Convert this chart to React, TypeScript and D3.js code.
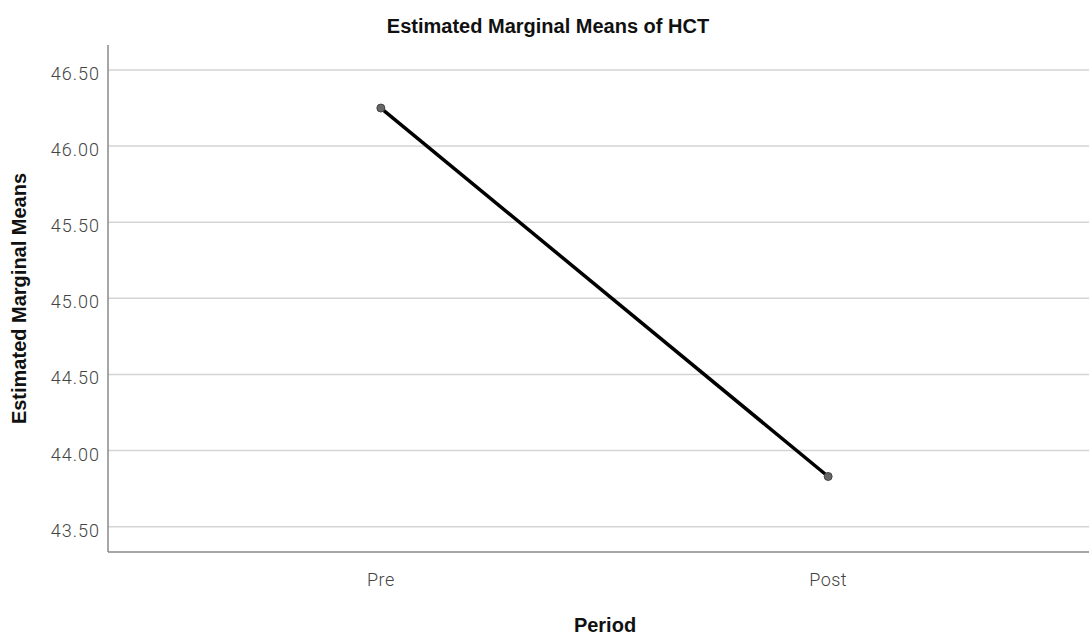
import React from "react";
import * as d3 from "d3";

const categories: string[] = ["Pre", "Post"];
const means: number[] = [46.25, 43.83];
const yTicks: number[] = [43.5, 44.0, 44.5, 45.0, 45.5, 46.0, 46.5];

const W = 1089;
const H = 635;
const left = 108;
const top = 45;
const bottom = 552;

export default function App() {
  const y = d3.scaleLinear().domain([43.334, 46.664]).range([bottom, top]);
  const x = d3.scalePoint<string>().domain(categories).range([left, 1101]).padding(0.61);
  const data = categories.map((c, i) => ({ c, v: means[i] }));
  const line = d3
    .line<{ c: string; v: number }>()
    .x((d) => x(d.c) as number)
    .y((d) => y(d.v));
  const fmt = d3.format(".2f");
  return (
    <div style={{ position: "fixed", left: 0, top: 0 }}>
      <svg width={W} height={H} style={{ display: "block", background: "#fff" }}>
        <text
          x={548}
          y={33}
          textAnchor="middle"
          fontFamily="Liberation Sans, Arial, sans-serif"
          fontWeight="bold"
          fontSize={20}
          fill="#111"
        >
          Estimated Marginal Means of HCT
        </text>
        {yTicks.map((t) => (
          <g key={t}>
            <line x1={left} x2={W} y1={y(t)} y2={y(t)} stroke="#d4d4d4" strokeWidth={1.5} />
            <text
              x={100}
              y={y(t) + 10}
              textAnchor="end"
              fontFamily="Roboto, sans-serif"
              fontWeight={300}
              fontSize={18}
              letterSpacing={1}
              fill="#444"
            >
              {fmt(t)}
            </text>
          </g>
        ))}
        <line x1={left} x2={left} y1={top} y2={bottom} stroke="#888" strokeWidth={1.5} />
        <line x1={left} x2={W} y1={bottom} y2={bottom} stroke="#888" strokeWidth={1.5} />
        {categories.map((c) => (
          <text
            key={c}
            x={x(c) as number}
            y={586}
            textAnchor="middle"
            fontFamily="Roboto, sans-serif"
            fontWeight={300}
            fontSize={18}
            letterSpacing={0.5}
            fill="#444"
          >
            {c}
          </text>
        ))}
        <text
          x={605}
          y={632}
          textAnchor="middle"
          fontFamily="Liberation Sans, Arial, sans-serif"
          fontWeight="bold"
          fontSize={20}
          fill="#111"
        >
          Period
        </text>
        <text
          transform={`translate(26, ${(top + bottom) / 2}) rotate(-90)`}
          textAnchor="middle"
          fontFamily="Liberation Sans, Arial, sans-serif"
          fontWeight="bold"
          fontSize={20}
          fill="#111"
        >
          Estimated Marginal Means
        </text>
        <path d={line(data) ?? ""} fill="none" stroke="#000" strokeWidth={3.5} />
        {data.map((d) => (
          <circle key={d.c} cx={x(d.c) as number} cy={y(d.v)} r={4} fill="#666" stroke="#444" strokeWidth={1} />
        ))}
      </svg>
    </div>
  );
}
